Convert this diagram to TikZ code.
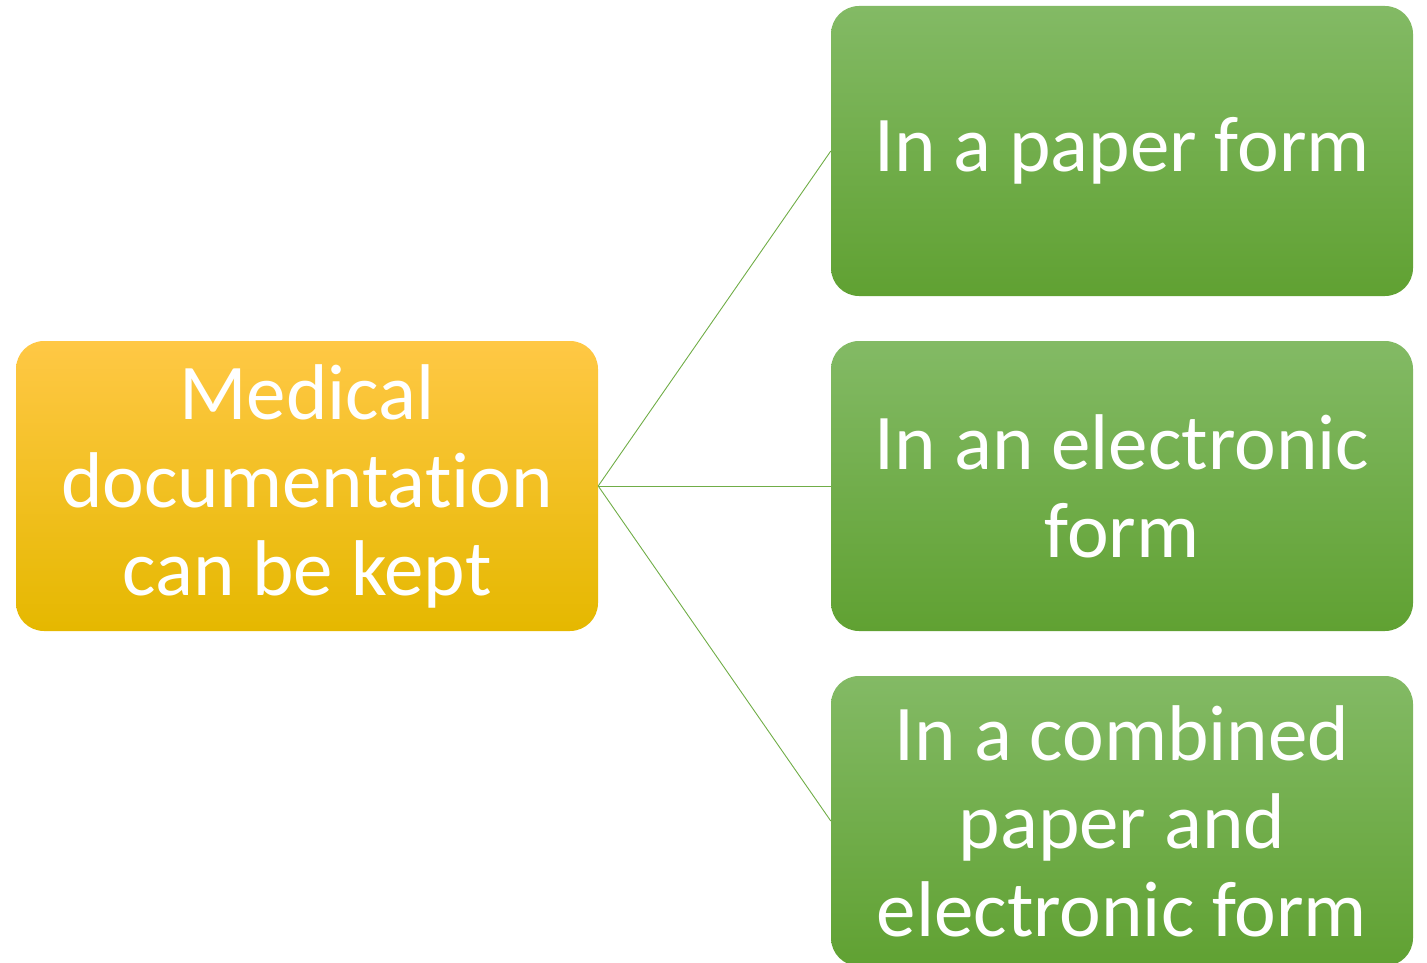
\documentclass[tikz,border=0pt]{standalone}
\usepackage{fontspec}
\setmainfont{Carlito}[Ligatures=NoCommon]
\usetikzlibrary{positioning}
\definecolor{goldtop}{HTML}{FFC845}
\definecolor{goldmid}{HTML}{FFC300}
\definecolor{goldbot}{HTML}{E5B800}
\definecolor{greentop}{HTML}{83BA65}
\definecolor{greenmid}{HTML}{70AD47}
\definecolor{greenbot}{HTML}{60A132}
\tikzset{
    gold/.style ={
        shape=rectangle,
        rounded corners=28pt,
        top color=goldtop,
        middle color=goldmid,
        bottom color=goldbot,
        text=white,
        align=center,
        font=\fontsize{79}{88}\selectfont,
        minimum width=582pt,
        minimum height=290pt
    },
    green/.style ={
        shape=rectangle,
        rounded corners=28pt,
        top color=greentop,
        middle color=greenmid,
        bottom color=greenbot,
        text=white,
        align=center,
        font=\fontsize{79}{88}\selectfont,
        minimum width=582pt,
        minimum height=290pt
    },
    link/.style ={
        draw=greenmid,
        line width=0.9pt
    }
}
\begin{document}
\begin{tikzpicture}[x=1pt,y=-1pt]
    \useasboundingbox (0,0) rectangle (1427,963);
    \node[gold] (medical) at(307,486) {Medical\\documentation\\can be kept};
    \node[green] (paper) at(1122,151) {In a paper form};
    \node[green] (electronic) at(1122,486) {In an electronic\\form};
    \node[green] (combined) at(1122,821) {In a combined\\paper and\\electronic form};
    \draw[link] (medical.east) -- (paper.west);
    \draw[link] (medical.east) -- (electronic.west);
    \draw[link] (medical.east) -- (combined.west);
\end{tikzpicture}
\end{document}
